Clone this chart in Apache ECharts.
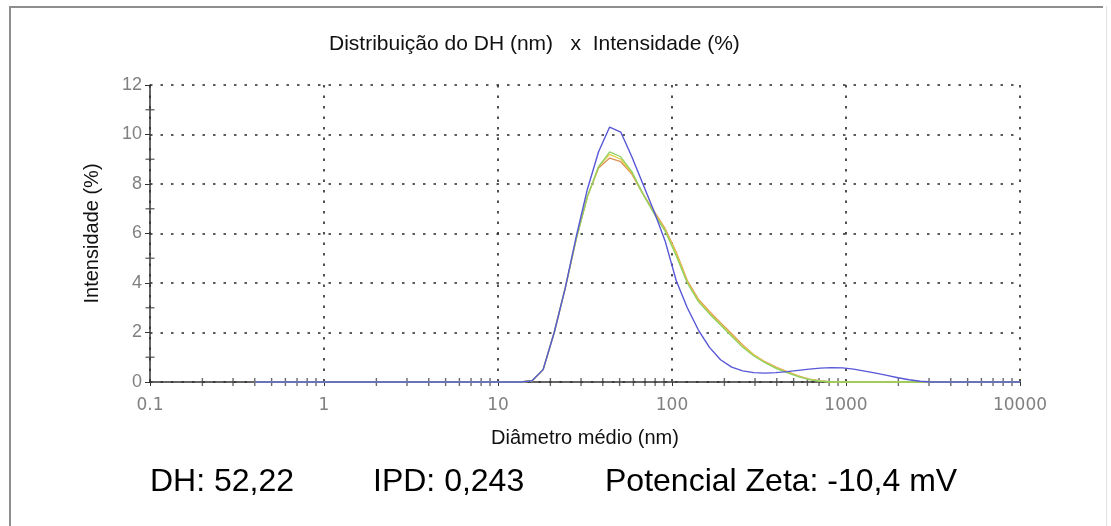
<!DOCTYPE html>
<html>
<head>
<meta charset="utf-8">
<script src="https://cdn.jsdelivr.net/npm/echarts@6/dist/echarts.min.js"></script>
<style>
html,body{margin:0;padding:0;background:#fff;}
#chart{width:1111px;height:526px;}
</style>
</head>
<body>
<div id="chart"></div>
<script>
// ---- texts ----
const titleText = 'Distribuição do DH (nm)   x  Intensidade (%)';
const xAxisName = 'Diâmetro médio (nm)';
const yAxisName = 'Intensidade (%)';
const footerTexts = ['DH: 52,22', 'IPD: 0,243', 'Potencial Zeta: -10,4 mV'];

// ---- size classes (nm) ----
const sizes = [0.4, 0.4632, 0.5365, 0.6213, 0.7195, 0.8332, 0.9649, 1.117, 1.294, 1.499,
  1.736, 2.01, 2.328, 2.696, 3.122, 3.615, 4.187, 4.849, 5.615, 6.503,
  7.531, 8.721, 10.1, 11.7, 13.54, 15.69, 18.17, 21.04, 24.36, 28.21,
  32.67, 37.84, 43.82, 50.75, 58.77, 68.06, 78.82, 91.28, 105.7, 122.4,
  141.8, 164.2, 190.1, 220.2, 255, 295.3, 342, 396.1, 458.7, 531.2,
  615.1, 712.4, 825, 955.4, 1106, 1281, 1484, 1718, 1990, 2305,
  2669, 3091, 3580, 4145, 4801, 5560, 6439, 7456, 8635, 10000];

// ---- intensities (%) ----
const blue = [0,0,0,0,0,0,0,0,0,0,
  0,0,0,0,0,0,0,0,0,0,
  0,0,0,0,0,0.05,0.5,2.0,3.8,5.9,
  7.8,9.3,10.3,10.1,9.1,8.0,6.9,5.7,4.1,3.0,
  2.1,1.4,0.9,0.6,0.45,0.38,0.36,0.38,0.42,0.47,
  0.52,0.56,0.58,0.57,0.52,0.44,0.36,0.27,0.17,0.09,
  0.03,0,0,0,0,0,0,0,0,0];
const green = [0,0,0,0,0,0,0,0,0,0,
  0,0,0,0,0,0,0,0,0,0,
  0,0,0,0,0,0.05,0.5,2.0,3.8,5.8,
  7.5,8.7,9.3,9.1,8.5,7.6,6.8,6.1,5.1,4.0,
  3.25,2.75,2.3,1.85,1.4,1.05,0.78,0.55,0.38,0.22,
  0.1,0.03,0,0,0,0,0,0,0,0,
  0,0,0,0,0,0,0,0,0,0];
const yellow = [0,0,0,0,0,0,0,0,0,0,
  0,0,0,0,0,0,0,0,0,0,
  0,0,0,0,0,0.05,0.5,2.0,3.8,5.8,
  7.5,8.7,9.2,9.0,8.45,7.6,6.85,6.15,5.2,4.05,
  3.3,2.8,2.35,1.9,1.45,1.1,0.8,0.58,0.4,0.24,
  0.11,0.04,0,0,0,0,0,0,0,0,
  0,0,0,0,0,0,0,0,0,0];
const orange = [0,0,0,0,0,0,0,0,0,0,
  0,0,0,0,0,0,0,0,0,0,
  0,0,0,0,0,0.05,0.5,2.0,3.8,5.8,
  7.5,8.65,9.05,8.9,8.4,7.6,6.9,6.2,5.25,4.1,
  3.35,2.85,2.4,1.95,1.5,1.1,0.82,0.6,0.42,0.25,
  0.12,0.04,0,0,0,0,0,0,0,0,
  0,0,0,0,0,0,0,0,0,0];

// ---- minor tick positions ----
const xMinorTicks = [0.2,0.3,0.4,0.5,0.6,0.7,0.8,0.9,
  2,3,4,5,6,7,8,9,
  20,30,40,50,60,70,80,90,
  200,300,400,500,600,700,800,900,
  2000,3000,4000,5000,6000,7000,8000,9000];
const yMinorTicks = [1,3,5,7,9,11];

function pairs(ys){ return sizes.map((s,i)=>[s, ys[i]]); }

const chart = echarts.init(document.getElementById('chart'), null, {renderer:'canvas'});
const gridDots = {color:'#262626', width:1.6, type:[2.5,8]};
const lineSeries = (name, ys, color, w) => ({
  name, type:'line', data: pairs(ys), showSymbol:false, symbol:'none', clip:false,
  lineStyle:{color, width:w}, itemStyle:{color}, silent:true
});

chart.setOption({
  backgroundColor:'#fff',
  animation:false,
  title:{
    text: titleText, left: 324, top: 29,
    textStyle:{fontFamily:'"Liberation Sans", Arial, sans-serif', fontSize:21, fontWeight:'normal', color:'#111'}
  },
  grid:{left:150, right:91, top:85, bottom:144, containLabel:false},
  xAxis:{
    type:'log', logBase:10, min:0.1, max:10000,
    name:xAxisName, nameLocation:'middle', nameGap:46,
    nameTextStyle:{fontFamily:'"Liberation Sans", Arial, sans-serif', fontSize:20, color:'#111'},
    axisLine:{show:true, onZero:false, lineStyle:{color:'#333', width:1.5}},
    axisTick:{show:true, length:4, lineStyle:{color:'#333'}},
    axisLabel:{margin:15, fontFamily:'"DejaVu Sans", sans-serif', fontSize:17, color:'#808080',
      formatter: v => String(v)},
    splitLine:{show:true, lineStyle:gridDots}
  },
  yAxis:{
    type:'value', min:0, max:12, interval:2,
    name:yAxisName, nameLocation:'middle', nameGap:48, nameRotate:90,
    nameTextStyle:{fontFamily:'"Liberation Sans", Arial, sans-serif', fontSize:20, color:'#111'},
    axisLine:{show:true, lineStyle:{color:'#333', width:1.5}},
    axisTick:{show:true, length:5, lineStyle:{color:'#333'}},
    axisLabel:{margin:8, fontFamily:'"Liberation Sans", Arial, sans-serif', fontSize:18, color:'#808080'},
    splitLine:{show:true, lineStyle:gridDots}
  },
  series:[
    {type:'scatter', data:xMinorTicks.map(v=>[v,0]), symbol:'rect', symbolSize:[1.4,8],
      itemStyle:{color:'#444'}, silent:true, clip:false, z:1},
    {type:'scatter', data:yMinorTicks.map(v=>[0.1,v]), symbol:'rect', symbolSize:[9,1.4],
      itemStyle:{color:'#444'}, silent:true, clip:false, z:1},
    lineSeries('Leitura 3', orange, '#dc8f55', 1.3),
    lineSeries('Leitura 2', yellow, '#e2d040', 1.3),
    lineSeries('Leitura 1', green, '#8fd062', 1.3),
    lineSeries('Média', blue, '#5757d8', 1.4)
  ],
  graphic:[
    {type:'line', silent:true, shape:{x1:9, y1:7, x2:1103, y2:7}, style:{stroke:'#8e8e8e', lineWidth:2}},
    {type:'line', silent:true, shape:{x1:10, y1:6, x2:10, y2:526}, style:{stroke:'#8e8e8e', lineWidth:2}},
    {type:'line', silent:true, shape:{x1:1106.5, y1:6, x2:1106.5, y2:526}, style:{stroke:'#e2e2e2', lineWidth:1}},
    {type:'text', left:150, top:466, style:{text:footerTexts[0], font:'32px "Liberation Sans", Arial, sans-serif', fill:'#000'}},
    {type:'text', left:373, top:466, style:{text:footerTexts[1], font:'32px "Liberation Sans", Arial, sans-serif', fill:'#000'}},
    {type:'text', left:605, top:466, style:{text:footerTexts[2], font:'32px "Liberation Sans", Arial, sans-serif', fill:'#000'}}
  ]
});
</script>
</body>
</html>
